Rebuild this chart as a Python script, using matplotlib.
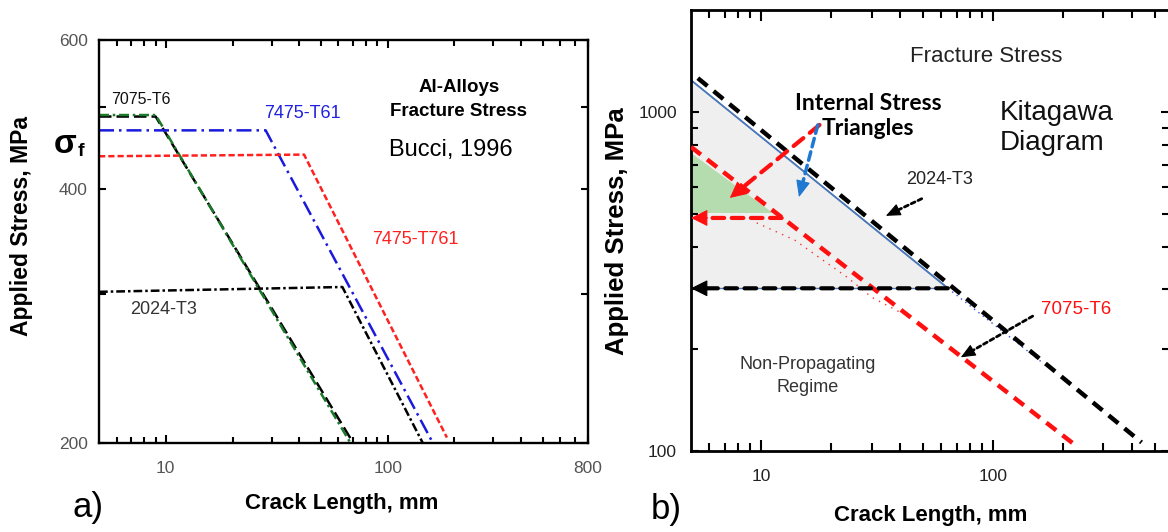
import numpy as np
import matplotlib.pyplot as plt
from matplotlib.ticker import FixedLocator, FixedFormatter, NullFormatter

plt.rcParams['font.family'] = ['Liberation Sans', 'DejaVu Sans']

# ---- panel a data (crack length mm, stress MPa) ----
a_7075_x = [5, 9, 70]
a_7075_y = [487, 487, 200]
a_7075g_x = [5, 9, 68]
a_7075g_y = [489, 489, 200]
a_t61_x = [5, 28.2, 160]
a_t61_y = [469, 469, 200]
a_t761_x = [5, 42, 185]
a_t761_y = [437, 439, 203]
a_2024_x = [5, 62.5, 144]
a_2024_y = [302, 306, 200]

# ---- panel b data ----
b_2024_x = [5.35, 438]
b_2024_y = [1259, 106]
b_blue_x = [5, 64]
b_blue_y = [1242, 302]
b_blue_dot_x = [64, 164]
b_blue_dot_y = [302, 182]
b_gray_x = [5, 5, 64]
b_gray_y = [1242, 302, 302]
b_green_x = [5, 5, 11.3]
b_green_y = [757, 503, 503]
b_7075_x = [5, 221]
b_7075_y = [789, 105.5]
b_faint_x = [9.6, 14.0, 19.8, 23.5, 30.1, 39.7]
b_faint_y = [471, 419, 354, 326, 284, 257]
b_red_arrow = [(12.3, 487), (5, 487)]
b_blk_arrow = [(64, 302), (5, 302)]
b_int_red = [(17.9, 916), (7.35, 558)]
b_int_blue = [(17.6, 916), (14.6, 561)]
b_lbl2024 = [(49.4, 555), (34.6, 494)]
b_lbl7075 = [(148.6, 250), (72.8, 189)]

W, H = 1168, 532


def fx(x):
    return x / W


def fy(y):
    return 1 - y / H


fig = plt.figure(figsize=(11.68, 5.32), dpi=100)

# ================= panel a =================
axa = fig.add_axes([fx(99), fy(443), fx(588) - fx(99), fy(40) - fy(443)])
axa.set_xscale('log')
axa.set_yscale('log')
axa.set_xlim(5, 800)
axa.set_ylim(200, 600)

axa.plot(a_7075_x, a_7075_y, color='black', lw=1.8, ls=(0, (5, 2)))
axa.plot(a_7075g_x, a_7075g_y, color='#1a7a2a', lw=1.8, ls=(0, (4, 1.5, 1, 1.5)))
axa.plot(a_t61_x, a_t61_y, color='#1a1adc', lw=1.8, ls=(0, (6, 2, 1, 2)))
axa.plot(a_t761_x, a_t761_y, color='#ff2020', lw=1.8, ls=(0, (2.5, 1.2)))
axa.plot(a_2024_x, a_2024_y, color='black', lw=1.8, ls=(0, (3.5, 1.2, 1, 1.2)))

axa.xaxis.set_major_locator(FixedLocator([10, 100, 800]))
axa.xaxis.set_major_formatter(FixedFormatter(['10', '100', '800']))
axa.xaxis.set_minor_locator(FixedLocator([6, 7, 8, 9, 20, 30, 40, 50, 60, 70, 80, 90,
                                          200, 300, 400, 500, 600, 700]))
axa.xaxis.set_minor_formatter(NullFormatter())
axa.yaxis.set_major_locator(FixedLocator([200, 300, 400, 500, 600]))
axa.yaxis.set_major_formatter(FixedFormatter(['200', '', '400', '', '600']))
axa.yaxis.set_minor_locator(FixedLocator([]))
axa.tick_params(which='both', direction='in', top=True, right=True, width=1.5,
                colors='black', labelcolor='#555555', labelsize=12.5)
axa.tick_params(axis='x', which='major', length=6, pad=13)
axa.tick_params(axis='x', which='minor', length=4)
axa.tick_params(axis='y', which='major', length=5, pad=8)
for s in axa.spines.values():
    s.set_linewidth(1.7)

fig.text(fx(22), fy(226), 'Applied Stress, MPa', rotation=90, ha='center', va='center',
         fontsize=16.5, fontweight='bold')
fig.text(fx(342), fy(503), 'Crack Length, mm', ha='center', va='center',
         fontsize=16, fontweight='bold')
fig.text(fx(65), fy(145), 'σ', ha='center', va='center', fontsize=24, fontweight='bold')
fig.text(fx(81), fy(151), 'f', ha='center', va='center', fontsize=14, fontweight='bold')
fig.text(fx(88), fy(507), 'a)', ha='center', va='center', fontsize=25)

fig.text(fx(141), fy(99), '7075-T6', ha='center', va='center', fontsize=11.5, color='#111111')
fig.text(fx(302), fy(113), '7475-T61', ha='center', va='center', fontsize=13, color='#2020e0')
fig.text(fx(459), fy(88), 'Al-Alloys', ha='center', va='center', fontsize=13.5, fontweight='bold')
fig.text(fx(459), fy(112), 'Fracture Stress', ha='center', va='center', fontsize=13.5,
         fontweight='bold')
fig.text(fx(451), fy(150), 'Bucci, 1996', ha='center', va='center', fontsize=17)
fig.text(fx(415), fy(240), '7475-T761', ha='center', va='center', fontsize=13, color='#ff2020')
fig.text(fx(164), fy(310), '2024-T3', ha='center', va='center', fontsize=13, color='#333333')

# ================= panel b =================
axb = fig.add_axes([fx(691), fy(451), 1.0 + 1 / W - fx(691), fy(10) - fy(451)])
axb.set_xscale('log')
axb.set_yscale('log')
axb.set_xlim(5, 575)
axb.set_ylim(100, 2000)

axb.fill(b_gray_x, b_gray_y, facecolor='#efefef', edgecolor='#4a78b8', lw=1, zorder=1)
axb.fill(b_green_x, b_green_y, facecolor='#b5dcae', edgecolor='none', zorder=1.5)
axb.plot(b_blue_x, b_blue_y, color='#4a78b8', lw=1.2, zorder=2)
axb.plot(b_blue_dot_x, b_blue_dot_y, color='#3050e0', lw=1, ls=(0, (1, 3)), zorder=2)
axb.plot(b_faint_x, b_faint_y, color='#ff3030', lw=1, ls=(0, (1, 4)), zorder=2)
axb.plot(b_2024_x, b_2024_y, color='black', lw=3.2, ls=(0, (2.8, 1.8)), zorder=3)
axb.plot(b_7075_x, b_7075_y, color='#ff1010', lw=3.2, ls=(0, (2.8, 1.8)), zorder=3)


def arrow(ax, pts, color, lw, ls, hl=0.7, hw=0.35, ms=15, back=12):
    # dashed shaft
    ax.annotate('', xy=pts[1], xytext=pts[0],
                arrowprops=dict(arrowstyle='-', color=color, lw=lw, ls=ls,
                                shrinkA=0, shrinkB=4),
                zorder=4)
    # solid head
    p0 = ax.transData.transform(pts[0])
    p1 = ax.transData.transform(pts[1])
    d = (p1 - p0) / np.hypot(*(p1 - p0))
    ax.annotate('', xy=pts[1], xytext=(-d[0] * back, -d[1] * back), textcoords='offset points',
                arrowprops=dict(arrowstyle='-|>,head_length=%g,head_width=%g' % (hl, hw),
                                color=color, lw=0.8, shrinkA=0, shrinkB=0,
                                mutation_scale=ms),
                zorder=4)


arrow(axb, b_red_arrow, '#ff1010', 3, (0, (2.8, 1.8)))
arrow(axb, b_blk_arrow, 'black', 3, (0, (2.8, 1.8)))
arrow(axb, b_int_red, '#ff1010', 3, (0, (3, 2)))
arrow(axb, b_int_blue, '#1f78d1', 2.5, (0, (2.5, 1.5)), hl=0.7, hw=0.3)
arrow(axb, b_lbl2024, 'black', 2, (0, (1.5, 1.2)), hl=0.7, hw=0.3, ms=13, back=10)
arrow(axb, b_lbl7075, 'black', 2, (0, (1.5, 1.2)), hl=0.7, hw=0.3, ms=13, back=10)

axb.xaxis.set_major_locator(FixedLocator([10, 100]))
axb.xaxis.set_major_formatter(FixedFormatter(['10', '100']))
axb.xaxis.set_minor_locator(FixedLocator([6, 7, 8, 9, 20, 30, 40, 50, 60, 70, 80, 90,
                                          200, 300, 400, 500]))
axb.xaxis.set_minor_formatter(NullFormatter())
axb.yaxis.set_major_locator(FixedLocator([100, 1000]))
axb.yaxis.set_major_formatter(FixedFormatter(['100', '1000']))
axb.yaxis.set_minor_locator(FixedLocator([200, 300, 400, 500, 600, 700, 800, 900]))
axb.yaxis.set_minor_formatter(NullFormatter())
axb.tick_params(which='both', direction='in', top=True, right=True, width=1.5,
                colors='black', labelcolor='#222222', labelsize=12.5)
axb.tick_params(axis='x', which='major', length=8, pad=13)
axb.tick_params(axis='x', which='minor', length=6)
axb.tick_params(axis='y', which='major', length=6, pad=10)
axb.tick_params(axis='y', which='minor', length=5)
for s in axb.spines.values():
    s.set_linewidth(2)

fig.text(fx(617), fy(231), 'Applied Stress, MPa', rotation=90, ha='center', va='center',
         fontsize=18.5, fontweight='bold')
fig.text(fx(931), fy(515), 'Crack Length, mm', ha='center', va='center',
         fontsize=16, fontweight='bold')
fig.text(fx(666), fy(509), 'b)', ha='center', va='center', fontsize=25)

fig.text(fx(986), fy(56), 'Fracture Stress', ha='center', va='center', fontsize=16,
         color='#222222')
fig.text(fx(1000), fy(128), 'Kitagawa\nDiagram', ha='left', va='center', fontsize=20,
         linespacing=1.15, color='#111111')
fig.text(fx(868), fy(116), 'Internal Stress\nTriangles', ha='center', va='center',
         fontsize=16.5, fontweight='bold', family=['Lato', 'DejaVu Sans'], linespacing=1.2)
fig.text(fx(940), fy(180), '2024-T3', ha='center', va='center', fontsize=13, color='#222222')
fig.text(fx(1076), fy(310), '7075-T6', ha='center', va='center', fontsize=13.5, color='#ff1010')
fig.text(fx(808), fy(376), 'Non-Propagating\nRegime', ha='center', va='center', fontsize=13,
         color='#333333', linespacing=1.5)

fig.savefig('out.png', dpi=100)
